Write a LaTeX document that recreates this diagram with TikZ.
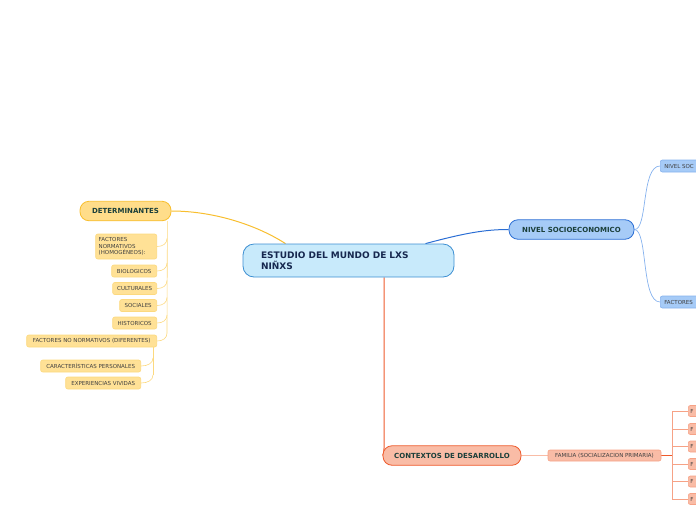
\documentclass[tikz,border=0pt]{standalone}
\usepackage{fontspec}
\setmainfont{DejaVu Sans}
\usetikzlibrary{backgrounds}
\definecolor{mapCentral}{HTML}{C8EAFB}
\definecolor{mapCentralLine}{HTML}{3D8FD2}
\definecolor{mapNavy}{HTML}{16284F}
\definecolor{mapTeal}{HTML}{1B3F3A}
\definecolor{mapYellow}{HTML}{FFDD8A}
\definecolor{mapYellowLine}{HTML}{F8BE2E}
\definecolor{mapYellowSoft}{HTML}{FFE196}
\definecolor{mapYellowTwig}{HTML}{FCD97F}
\definecolor{mapBlue}{HTML}{A6CBF7}
\definecolor{mapBlueLine}{HTML}{2B6ED4}
\definecolor{mapBlueTwig}{HTML}{86B2EE}
\definecolor{mapRed}{HTML}{F9BCA6}
\definecolor{mapRedLine}{HTML}{EE5A2C}
\definecolor{mapRedTwig}{HTML}{F6A286}

\begin{document}
\begin{tikzpicture}[
  x=1pt, y=-1pt,
  central/.style={draw=mapCentralLine, fill=mapCentral, rounded corners=11pt, line width=0.8pt,
                  minimum height=33pt, text width=175pt, inner xsep=18pt, align=left,
                  font=\fontsize{9}{11}\selectfont\bfseries, text=mapNavy},
  topic/.style={rounded corners=9pt, line width=0.8pt, minimum height=19.5pt, inner sep=0pt,
                font=\fontsize{7}{8}\selectfont\bfseries, text=mapTeal},
  leaf/.style={rounded corners=2pt, line width=0.6pt, minimum height=12pt, inner sep=0pt,
               font=\fontsize{5.5}{6.7}\selectfont, text=black!75},
  ytopic/.style={topic, draw=mapYellowLine, fill=mapYellow},
  yleaf/.style={leaf, anchor=east, draw=mapYellowTwig, fill=mapYellowSoft},
  btopic/.style={topic, draw=mapBlueLine, fill=mapBlue},
  bleaf/.style={leaf, anchor=west, draw=mapBlueTwig, fill=mapBlue, minimum width=60pt,
                align=left, text width=56pt, inner xsep=4pt},
  rtopic/.style={topic, draw=mapRedLine, fill=mapRed},
  rleaf/.style={leaf, draw=mapRedTwig, fill=mapRed},
  yline/.style={draw=mapYellowLine, line width=1pt},
  ytwig/.style={draw=mapYellowTwig, line width=0.6pt},
  bline/.style={draw=mapBlueLine, line width=1pt},
  btwig/.style={draw=mapBlueTwig, line width=0.7pt},
  rline/.style={draw=mapRedLine, line width=1pt},
  rtwig/.style={draw=mapRedTwig, line width=0.7pt}
]
\useasboundingbox (0,0) rectangle (696,520);
\clip (0,0) rectangle (696,520);

\node[central] (estudio) at (348.5,260.5) {ESTUDIO DEL MUNDO DE LXS\\NIÑXS};

% rama amarilla
\node[ytopic, minimum width=91pt] (determ) at (125.5,211) {DETERMINANTES};
\node[yleaf, minimum width=61pt, minimum height=25pt, text width=55pt, align=left,
      inner xsep=3pt] (fnorm) at (157,246.5) {FACTORES\\NORMATIVOS\\(HOMOGÉNEOS):};
\node[yleaf, minimum width=45pt] (bio) at (157,271) {BIOLOGICOS};
\node[yleaf, minimum width=44pt] (cult) at (157,288.5) {CULTURALES};
\node[yleaf, minimum width=37pt] (soc) at (157,305.5) {SOCIALES};
\node[yleaf, minimum width=44pt] (hist) at (157,323) {HISTORICOS};
\node[yleaf, minimum width=130pt] (fnonorm) at (157,341) {FACTORES NO NORMATIVOS (DIFERENTES)};
\node[yleaf, minimum width=100pt] (caract) at (141,366) {CARACTERÍSTICAS PERSONALES};
\node[yleaf, minimum width=75pt] (exper) at (141,383) {EXPERIENCIAS VIVIDAS};

% rama azul
\node[btopic, minimum width=125pt] (nivel) at (571.5,229.5) {NIVEL SOCIOECONOMICO};
\node[bleaf] (nivsoc) at (660,166) {NIVEL SOC};
\node[bleaf] (factores) at (660,302) {FACTORES};

% rama roja
\node[rtopic, minimum width=138pt] (contextos) at (452,455.5) {CONTEXTOS DE DESARROLLO};
\node[rleaf, minimum width=113pt, minimum height=11pt] (familia) at (604.5,455.5) {FAMILIA (SOCIALIZACION PRIMARIA)};
\foreach \n/\yy in {fam1/411,fam2/429,fam3/446.5,fam4/464,fam5/481.5,fam6/499}
  \node[rleaf, anchor=west, minimum width=30pt, minimum height=11pt, text width=26pt,
        align=left, inner xsep=2pt] (\n) at (688,\yy) {F};

\begin{scope}[on background layer]
\draw[yline] ([xshift=-63pt]estudio.north) .. controls (255,224) and (212,211) .. (determ.east);
\draw[bline] ([xshift=77pt]estudio.north) .. controls (465,233) and (485,229.5) .. (nivel.west);
\draw[rline] ([xshift=35.5pt]estudio.south) -- (384,448) .. controls (384,453) .. (contextos.west);

\draw[ytwig] ([xshift=-4pt]determ.south east) -- (167,333);
\foreach \n in {fnorm,bio,cult,soc,hist,fnonorm}
  \draw[ytwig] (\n.east) .. controls ([xshift=6pt]\n.east) and ([xshift=10pt,yshift=3pt]\n.east)
    .. ([xshift=10pt,yshift=8pt]\n.east);
\draw[ytwig] ([xshift=-4pt]fnonorm.south east) -- (153,375);
\foreach \n in {caract,exper}
  \draw[ytwig] (\n.east) .. controls ([xshift=7pt]\n.east) and ([xshift=12pt,yshift=3pt]\n.east)
    .. ([xshift=12pt,yshift=8pt]\n.east);

\draw[btwig] (nivel.east) .. controls (648,230) and (641,166) .. (nivsoc.west);
\draw[btwig] (nivel.east) .. controls (648,230) and (641,302) .. (factores.west);

\draw[rtwig, draw=mapRed] (contextos.east) -- (familia.west);
\draw[rline, line width=1.6pt] (familia.east) -- (672,455.5);
\draw[rtwig] (672,411) -- (672,499);
\foreach \n in {fam1,fam2,fam3,fam4,fam5,fam6}
  \draw[rtwig] (\n.west) -- ++(-16,0);
\end{scope}
\end{tikzpicture}
\end{document}
